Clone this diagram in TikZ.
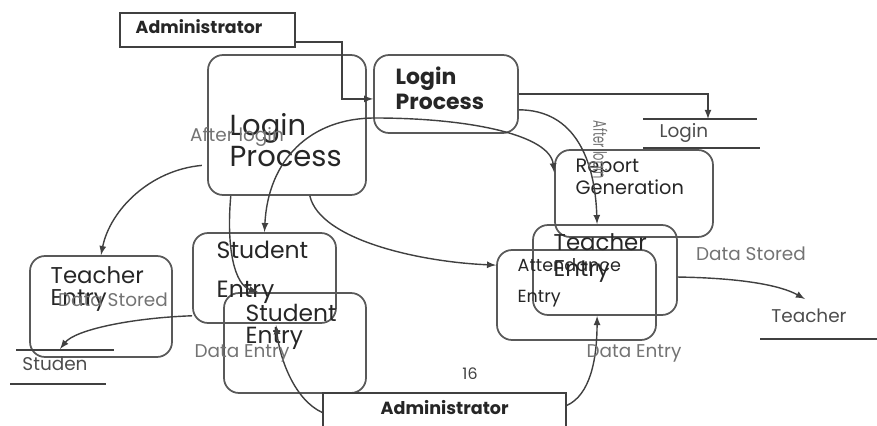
\documentclass[tikz,border=0pt]{standalone}
\usepackage{fontspec}
\setmainfont{Poppins}
\begin{document}
\begin{tikzpicture}[x=0.02cm,y=-0.02cm,>=latex,line width=0.8pt,draw=black!75,
	proc/.style={draw=black!65,rectangle,rounded corners=0.3cm,line width=1pt},
	ext/.style={draw=black!75,rectangle,line width=0.9pt},
	txt/.style={text=black!85,align=left,anchor=west,inner sep=0pt},
	lbl/.style={text=black!55,inner sep=0pt,font=\fontsize{10.5}{12}\selectfont}]
		\useasboundingbox (0,0) rectangle (877,426);

		% boxes
		\node [ext,minimum width=3.5cm,minimum height=0.68cm] (adm1) at (207.5,30) {};
		\node [proc,minimum width=3.16cm,minimum height=2.8cm] (lp1) at (287,125) {};
		\node [proc,minimum width=2.88cm,minimum height=1.56cm] (lp2) at (446,94) {};
		\node [proc,minimum width=3.16cm,minimum height=1.74cm] (rg) at (634,193.5) {};
		\node [proc,minimum width=2.84cm,minimum height=2.02cm] (te1) at (101,306.5) {};
		\node [proc,minimum width=2.86cm,minimum height=1.8cm] (se1) at (264.5,278) {};
		\node [proc,minimum width=2.84cm,minimum height=2cm] (se2) at (295,343) {};
		\node [proc,minimum width=3.18cm,minimum height=1.8cm] (ae) at (576.5,295) {};
		\node [proc,minimum width=2.88cm,minimum height=1.8cm] (te2) at (605,270) {};
		\node [ext,minimum width=4.86cm,minimum height=0.92cm] (adm2) at (444.5,416) {};

		% texts
		\node [txt,font=\bfseries\fontsize{9.9}{11}\selectfont] (adm1t) at (135,27) {Administrator};
		\node [txt,font=\fontsize{16.5}{17.6}\selectfont] (lp1t) at (229,140) {Login\\Process};
		\node [txt,font=\bfseries\fontsize{12.5}{14.2}\selectfont] (lp2t) at (395,88) {Login\\Process};
		\node [txt,font=\fontsize{11}{10.2}\selectfont] (rgt) at (575,177) {Report\\Generation};
		\node [txt,font=\fontsize{13}{12.5}\selectfont] (te1t) at (50,289) {Teacher\\Entry};
		\node [txt,font=\fontsize{13.4}{22}\selectfont] (se1t) at (216,272) {Student\\Entry};
		\node [txt,font=\fontsize{13.3}{12.5}\selectfont] (se2t) at (245,327) {Student\\Entry};
		\node [txt,font=\fontsize{10}{17.6}\selectfont] (aet) at (517,283) {Attendance\\Entry};
		\node [txt,font=\fontsize{13}{15.3}\selectfont] (te2t) at (553,258) {Teacher\\Entry};
		\node [txt,font=\bfseries\fontsize{10}{11}\selectfont] (adm2t) at (380,408) {Administrator};

		% stores
		\coordinate (lgtop) at (708,119);
		\draw (643,119) -- (757,119);
		\draw (643,148) -- (760,148);
		\node [lbl,text=black!70] (lgst) at (684,133) {Login};
		\coordinate (sttop) at (60,349);
		\draw (16,350) -- (114,350);
		\draw (10,384) -- (106,384);
		\node [lbl,text=black!70] (stst) at (55,364) {Studen};
		\coordinate (tctop) at (805,299);
		\draw (760,339) -- (877,339);
		\node [lbl,text=black!70] (tcst) at (809,316) {Teacher};

		% flows
		\coordinate (bend) at (342,42);
		\draw [->] (adm1.east |- bend) -- (bend) |- ([yshift=-2.8pt]lp2.west);
		\draw [->] (lp2.east) -| (lgtop);
		\draw [->] ([yshift=-9pt]lp2.east) .. controls (575,110) and (595,160) .. ([xshift=-4.5pt]te2.north);
		\coordinate (arch) at (375,118);
		\draw [<->] (se1.north) .. controls (268,160) and (310,118) .. (arch) .. controls (470,118) and (550,135) .. ([yshift=12pt]rg.west);
		\draw [->] ([xshift=-3pt,yshift=-23pt]lp1.west) .. controls (150,170) and (110,210) .. (te1.north);
		\draw [->] ([xshift=-32pt]lp1.south) .. controls (226,250) and (235,285) .. ([xshift=-21pt]se2.north);
		\draw [->] ([xshift=13pt]lp1.south) .. controls (320,240) and (420,262) .. ([yshift=17pt]ae.west);
		\draw [->] ([yshift=-21.5pt]se1.west) .. controls (130,318) and (75,330) .. (sttop);
		\draw [->] ([yshift=2pt]adm2.west) .. controls (295,400) and (280,360) .. ([xshift=-10.8pt,yshift=10.2pt]se2.center);
		\draw [->] ([yshift=6pt]adm2.east) .. controls (590,395) and (597,360) .. ([xshift=-4.5pt]te2.south);
		\draw [->] ([yshift=-4pt]te2.east) .. controls (740,278) and (780,285) .. (tctop);

		% labels
		\node [lbl] (al1) at (237,137) {After login};
		\node [lbl,rotate=-90,xscale=0.62] (al2) at (598,150) {After login};
		\node [lbl] (ds1) at (113,300) {Data Stored};
		\node [lbl] (ds2) at (751,254) {Data Stored};
		\node [lbl] (de1) at (242,353) {Data Entry};
		\node [lbl] (de2) at (634,353) {Data Entry};
		\node [text=black!75,font=\fontsize{9}{11}\selectfont] (pg) at (470,374) {16};
	\end{tikzpicture}
\end{document}
